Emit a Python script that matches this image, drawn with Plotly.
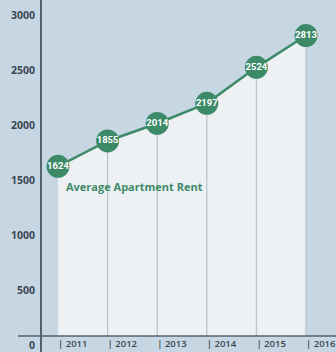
import plotly.graph_objects as go

years = [2011, 2012, 2013, 2014, 2015, 2016]
rent = [1624, 1855, 2014, 2197, 2524, 2813]
year_labels = ["| 2011", "| 2012", "| 2013", "| 2014", "| 2015", "| 2016"]
y_ticks = [0, 500, 1000, 1500, 2000, 2500, 3000]
series_name = "Average Apartment Rent"

W, H = 336, 352
L = 42
BG = "#c6d7e3"
GREEN = "#3d8a68"
TXT = "#3b4650"

# axis mapping (pixels): value 0 at y=345, 110 px per 1000
px_per_unit = 0.11
y0_px = 345
y_top = y0_px / px_per_unit
y_bot = -(H - y0_px) / px_per_unit
axis_px = 336  # baseline line position in pixels
base_val = (y0_px - axis_px) / px_per_unit

# x mapping: first point at x=58, spacing ~49.6 px
step_px = 49.6
x_min = years[0] - (58 - L) / step_px
x_max = x_min + (W - L) / step_px

fig = go.Figure()
# baseline for fill
fig.add_trace(go.Scatter(x=years, y=[base_val] * len(years), mode="lines",
                         line=dict(width=0, color="rgba(0,0,0,0)"), hoverinfo="skip",
                         showlegend=False))
fig.add_trace(go.Scatter(x=years, y=rent, mode="lines", fill="tonexty",
                         fillcolor="#edf1f4", line=dict(width=0, color="rgba(0,0,0,0)"),
                         hoverinfo="skip", showlegend=False))
# vertical drop lines
vx, vy = [], []
for xv, yv in zip(years[1:], rent[1:]):
    vx += [xv, xv, None]
    vy += [yv, base_val, None]
fig.add_trace(go.Scatter(x=vx, y=vy, mode="lines", line=dict(color="#bcc5cc", width=1.3),
                         hoverinfo="skip", showlegend=False))
# main line with markers
fig.add_trace(go.Scatter(x=years, y=rent, mode="lines+markers+text", name=series_name,
                         line=dict(color=GREEN, width=2.5),
                         marker=dict(size=23, color=GREEN, line=dict(width=0)),
                         text=[str(v) for v in rent], textposition="middle center",
                         textfont=dict(color="white", size=9.5, family="Roboto", weight=700),
                         cliponaxis=False, showlegend=False))

fig.add_annotation(x=years[0], y=rent[0], text=series_name, showarrow=False,
                   xanchor="left", yanchor="middle", xshift=6, yshift=-20,
                   font=dict(color=GREEN, size=11, family="Open Sans", weight=700))

fig.add_shape(type="line", xref="paper", yref="paper",
              x0=(18 - L) / (W - L), x1=1, y0=(H - axis_px) / H, y1=(H - axis_px) / H,
              line=dict(color="#55626c", width=1.5), layer="above")

fig.update_layout(
    width=W, height=H,
    margin=dict(l=L, r=0, t=0, b=0),
    paper_bgcolor=BG, plot_bgcolor=BG,
    xaxis=dict(range=[x_min, x_max], anchor="free", position=(H - axis_px) / H,
               tickvals=years, ticktext=year_labels, ticklabelposition="outside right",
               showgrid=False, zeroline=False, showline=False, ticks="",
               tickfont=dict(color=TXT, size=9.5, family="Open Sans", weight=600)),
    yaxis=dict(range=[y_bot, y_top], tickvals=y_ticks, showgrid=False, zeroline=False,
               showline=True, linecolor="#55626c", linewidth=2, ticks="",
               ticklabelstandoff=3,
               tickfont=dict(color=TXT, size=10.5, family="Open Sans", weight=700)),
)

fig.write_html("out.html")
